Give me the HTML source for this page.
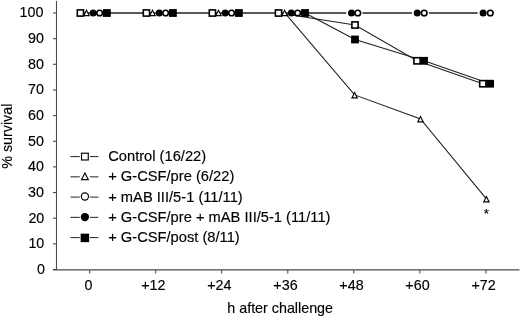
<!DOCTYPE html>
<html><head><meta charset="utf-8">
<style>
html,body{margin:0;padding:0;background:#fff;}
svg{display:block;filter:grayscale(1);}
text{font-family:"Liberation Sans",sans-serif;font-size:14.3px;fill:#000;stroke:#000;stroke-width:0.15px;}
text.lg{font-size:14.7px;}
</style></head>
<body>
<svg width="520" height="317" viewBox="0 0 520 317">
<rect width="520" height="317" fill="#fff"/>
<line x1="56.5" y1="1" x2="56.5" y2="270" stroke="#4a4a4a" stroke-width="1.1"/>
<line x1="53" y1="269.9" x2="519.5" y2="269.9" stroke="#4a4a4a" stroke-width="1.2"/>
<line x1="53" y1="269.50" x2="56.5" y2="269.50" stroke="#4a4a4a" stroke-width="1.1"/>
<text x="44.90" y="273.80" text-anchor="end">0</text>
<line x1="53" y1="243.85" x2="56.5" y2="243.85" stroke="#4a4a4a" stroke-width="1.1"/>
<text x="44.30" y="248.15" text-anchor="end">10</text>
<line x1="53" y1="218.20" x2="56.5" y2="218.20" stroke="#4a4a4a" stroke-width="1.1"/>
<text x="44.30" y="222.50" text-anchor="end">20</text>
<line x1="53" y1="192.55" x2="56.5" y2="192.55" stroke="#4a4a4a" stroke-width="1.1"/>
<text x="43.90" y="196.85" text-anchor="end">30</text>
<line x1="53" y1="166.90" x2="56.5" y2="166.90" stroke="#4a4a4a" stroke-width="1.1"/>
<text x="43.90" y="171.20" text-anchor="end">40</text>
<line x1="53" y1="141.25" x2="56.5" y2="141.25" stroke="#4a4a4a" stroke-width="1.1"/>
<text x="43.90" y="145.55" text-anchor="end">50</text>
<line x1="53" y1="115.60" x2="56.5" y2="115.60" stroke="#4a4a4a" stroke-width="1.1"/>
<text x="43.90" y="119.90" text-anchor="end">60</text>
<line x1="53" y1="89.95" x2="56.5" y2="89.95" stroke="#4a4a4a" stroke-width="1.1"/>
<text x="43.90" y="94.25" text-anchor="end">70</text>
<line x1="53" y1="64.30" x2="56.5" y2="64.30" stroke="#4a4a4a" stroke-width="1.1"/>
<text x="43.90" y="68.60" text-anchor="end">80</text>
<line x1="53" y1="38.65" x2="56.5" y2="38.65" stroke="#4a4a4a" stroke-width="1.1"/>
<text x="43.90" y="42.95" text-anchor="end">90</text>
<line x1="53" y1="13.00" x2="56.5" y2="13.00" stroke="#4a4a4a" stroke-width="1.1"/>
<text x="43.40" y="17.30" text-anchor="end">100</text>
<line x1="89.7" y1="269.9" x2="89.7" y2="273.6" stroke="#4a4a4a" stroke-width="1.1"/>
<text x="88.50" y="289.6" text-anchor="middle">0</text>
<line x1="155.7" y1="269.9" x2="155.7" y2="273.6" stroke="#4a4a4a" stroke-width="1.1"/>
<text x="153.40" y="289.6" text-anchor="middle">+12</text>
<line x1="221.7" y1="269.9" x2="221.7" y2="273.6" stroke="#4a4a4a" stroke-width="1.1"/>
<text x="219.40" y="289.6" text-anchor="middle">+24</text>
<line x1="287.8" y1="269.9" x2="287.8" y2="273.6" stroke="#4a4a4a" stroke-width="1.1"/>
<text x="285.50" y="289.6" text-anchor="middle">+36</text>
<line x1="353.8" y1="269.9" x2="353.8" y2="273.6" stroke="#4a4a4a" stroke-width="1.1"/>
<text x="351.50" y="289.6" text-anchor="middle">+48</text>
<line x1="419.8" y1="269.9" x2="419.8" y2="273.6" stroke="#4a4a4a" stroke-width="1.1"/>
<text x="417.50" y="289.6" text-anchor="middle">+60</text>
<line x1="485.9" y1="269.9" x2="485.9" y2="273.6" stroke="#4a4a4a" stroke-width="1.1"/>
<text x="483.60" y="289.6" text-anchor="middle">+72</text>
<text x="227.3" y="312.8">h after challenge</text>
<text transform="translate(12,168.8) rotate(-90)" x="0" y="0">% survival</text>
<line x1="80.40" y1="13.0" x2="346.20" y2="13.0" stroke="#222" stroke-width="1.28"/>
<line x1="362.50" y1="13.0" x2="412.00" y2="13.0" stroke="#222" stroke-width="1.28"/>
<line x1="429.00" y1="13.0" x2="477.60" y2="13.0" stroke="#222" stroke-width="1.28"/>
<polyline points="278.50,13.00 355.00,25.00 417.00,60.80 482.80,83.70" fill="none" stroke="#222" stroke-width="1.1"/>
<polyline points="284.60,12.60 354.60,94.90 420.50,118.90 486.40,198.90" fill="none" stroke="#222" stroke-width="1.1"/>
<polyline points="305.00,13.00 355.00,39.50 424.00,60.80 490.10,83.70" fill="none" stroke="#222" stroke-width="1.1"/>
<rect x="76.50" y="9.10" width="7.80" height="7.80" fill="#000"/><rect x="78.10" y="10.70" width="4.60" height="4.60" fill="#fff"/>
<path d="M86.50,9.00 L90.10,16.20 L82.90,16.20 Z" fill="#000"/><path d="M86.50,11.57 L88.24,15.05 L84.76,15.05 Z" fill="#fff"/>
<circle cx="93.20" cy="13.00" r="3.50" fill="#000"/>
<circle cx="99.60" cy="13.00" r="3.60" fill="#000"/><circle cx="99.60" cy="13.00" r="2.00" fill="#fff"/>
<rect x="103.00" y="9.10" width="7.80" height="7.80" fill="#000"/>
<rect x="142.50" y="9.10" width="7.80" height="7.80" fill="#000"/><rect x="144.10" y="10.70" width="4.60" height="4.60" fill="#fff"/>
<path d="M152.50,9.00 L156.10,16.20 L148.90,16.20 Z" fill="#000"/><path d="M152.50,11.57 L154.24,15.05 L150.76,15.05 Z" fill="#fff"/>
<circle cx="159.20" cy="13.00" r="3.50" fill="#000"/>
<circle cx="165.60" cy="13.00" r="3.60" fill="#000"/><circle cx="165.60" cy="13.00" r="2.00" fill="#fff"/>
<rect x="169.00" y="9.10" width="7.80" height="7.80" fill="#000"/>
<rect x="208.50" y="9.10" width="7.80" height="7.80" fill="#000"/><rect x="210.10" y="10.70" width="4.60" height="4.60" fill="#fff"/>
<path d="M218.50,9.00 L222.10,16.20 L214.90,16.20 Z" fill="#000"/><path d="M218.50,11.57 L220.24,15.05 L216.76,15.05 Z" fill="#fff"/>
<circle cx="225.20" cy="13.00" r="3.50" fill="#000"/>
<circle cx="231.60" cy="13.00" r="3.60" fill="#000"/><circle cx="231.60" cy="13.00" r="2.00" fill="#fff"/>
<rect x="235.00" y="9.10" width="7.80" height="7.80" fill="#000"/>
<rect x="274.60" y="9.10" width="7.80" height="7.80" fill="#000"/><rect x="276.20" y="10.70" width="4.60" height="4.60" fill="#fff"/>
<path d="M284.60,9.00 L288.20,16.20 L281.00,16.20 Z" fill="#000"/><path d="M284.60,11.57 L286.34,15.05 L282.86,15.05 Z" fill="#fff"/>
<circle cx="291.30" cy="13.00" r="3.50" fill="#000"/>
<circle cx="297.70" cy="13.00" r="3.60" fill="#000"/><circle cx="297.70" cy="13.00" r="2.00" fill="#fff"/>
<rect x="301.10" y="9.10" width="7.80" height="7.80" fill="#000"/>
<rect x="351.10" y="21.10" width="7.80" height="7.80" fill="#000"/><rect x="352.70" y="22.70" width="4.60" height="4.60" fill="#fff"/>
<path d="M354.60,91.30 L358.20,98.50 L351.00,98.50 Z" fill="#000"/><path d="M354.60,93.87 L356.34,97.35 L352.86,97.35 Z" fill="#fff"/>
<circle cx="351.50" cy="13.00" r="3.50" fill="#000"/>
<circle cx="357.80" cy="13.00" r="3.60" fill="#000"/><circle cx="357.80" cy="13.00" r="2.00" fill="#fff"/>
<rect x="351.10" y="35.60" width="7.80" height="7.80" fill="#000"/>
<rect x="413.10" y="56.90" width="7.80" height="7.80" fill="#000"/><rect x="414.70" y="58.50" width="4.60" height="4.60" fill="#fff"/>
<path d="M420.50,115.30 L424.10,122.50 L416.90,122.50 Z" fill="#000"/><path d="M420.50,117.87 L422.24,121.35 L418.76,121.35 Z" fill="#fff"/>
<circle cx="417.20" cy="13.00" r="3.50" fill="#000"/>
<circle cx="424.20" cy="13.00" r="3.60" fill="#000"/><circle cx="424.20" cy="13.00" r="2.00" fill="#fff"/>
<rect x="420.10" y="56.90" width="7.80" height="7.80" fill="#000"/>
<rect x="478.90" y="79.80" width="7.80" height="7.80" fill="#000"/><rect x="480.50" y="81.40" width="4.60" height="4.60" fill="#fff"/>
<path d="M486.40,195.30 L490.00,202.50 L482.80,202.50 Z" fill="#000"/><path d="M486.40,197.87 L488.14,201.35 L484.66,201.35 Z" fill="#fff"/>
<circle cx="483.10" cy="13.00" r="3.50" fill="#000"/>
<circle cx="490.30" cy="13.00" r="3.60" fill="#000"/><circle cx="490.30" cy="13.00" r="2.00" fill="#fff"/>
<rect x="486.20" y="79.80" width="7.80" height="7.80" fill="#000"/>
<text x="486.4" y="218.4" text-anchor="middle" style="font-size:13.5px">*</text>
<line x1="70.5" y1="156.60" x2="79.8" y2="156.60" stroke="#222" stroke-width="1"/>
<line x1="89.9" y1="156.60" x2="98.4" y2="156.60" stroke="#222" stroke-width="1"/>
<rect x="80.95" y="152.65" width="7.90" height="7.90" fill="#000"/><rect x="82.10" y="153.80" width="5.60" height="5.60" fill="#fff"/>
<text x="108.2" y="161.00" class="lg">Control (16/22)</text>
<line x1="70.5" y1="176.85" x2="79.8" y2="176.85" stroke="#222" stroke-width="1"/>
<line x1="89.9" y1="176.85" x2="98.4" y2="176.85" stroke="#222" stroke-width="1"/>
<path d="M84.90,171.65 L89.20,180.25 L80.60,180.25 Z" fill="#000"/><path d="M84.90,174.22 L87.34,179.10 L82.46,179.10 Z" fill="#fff"/>
<text x="108.2" y="181.25" class="lg">+ G-CSF/pre (6/22)</text>
<line x1="70.5" y1="197.10" x2="79.8" y2="197.10" stroke="#222" stroke-width="1"/>
<line x1="89.9" y1="197.10" x2="98.4" y2="197.10" stroke="#222" stroke-width="1"/>
<circle cx="84.90" cy="196.50" r="4.15" fill="#000"/><circle cx="84.90" cy="196.50" r="3.00" fill="#fff"/>
<text x="108.2" y="201.50" class="lg">+ mAB III/5-1 (11/11)</text>
<line x1="70.5" y1="217.35" x2="79.8" y2="217.35" stroke="#222" stroke-width="1"/>
<line x1="89.9" y1="217.35" x2="98.4" y2="217.35" stroke="#222" stroke-width="1"/>
<circle cx="84.90" cy="217.05" r="4.15" fill="#000"/>
<text x="108.2" y="221.75" class="lg">+ G-CSF/pre + mAB III/5-1 (11/11)</text>
<line x1="70.5" y1="237.60" x2="79.8" y2="237.60" stroke="#222" stroke-width="1"/>
<line x1="89.9" y1="237.60" x2="98.4" y2="237.60" stroke="#222" stroke-width="1"/>
<rect x="80.65" y="233.65" width="8.50" height="8.50" fill="#000"/>
<text x="108.2" y="242.00" class="lg">+ G-CSF/post (8/11)</text>
</svg>
</body></html>
